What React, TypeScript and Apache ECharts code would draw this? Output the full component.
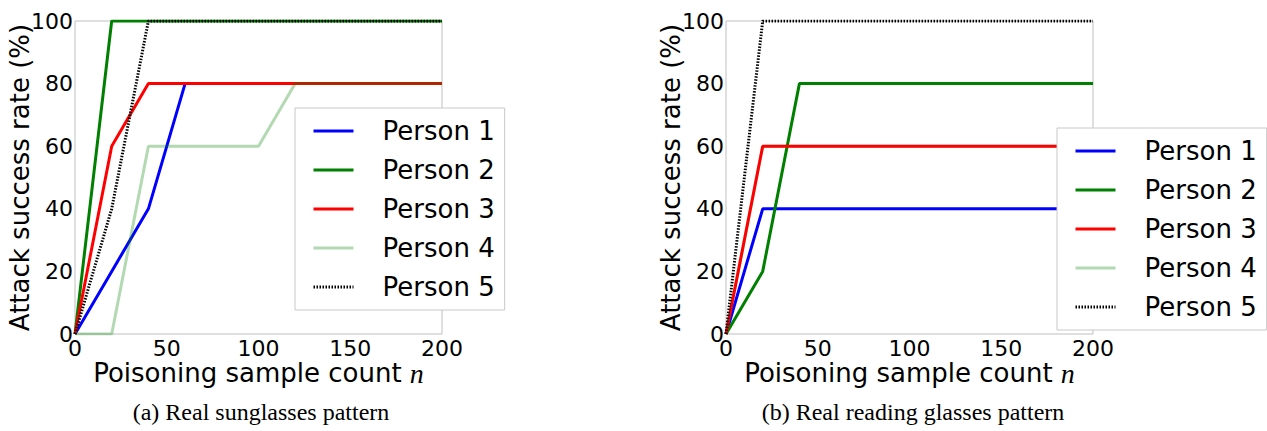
import React, { useEffect, useRef } from "react";
import * as echarts from "echarts";

const xValues = [0, 20, 40, 60, 80, 100, 120, 140, 160, 180, 200];
const personNames = ["Person 1", "Person 2", "Person 3", "Person 4", "Person 5"];

// (a) Real sunglasses pattern
const sunP1 = [0, 20, 40, 80, 80, 80, 80, 80, 80, 80, 80];
const sunP2 = [0, 100, 100, 100, 100, 100, 100, 100, 100, 100, 100];
const sunP3 = [0, 60, 80, 80, 80, 80, 80, 80, 80, 80, 80];
const sunP4 = [0, 0, 60, 60, 60, 60, 80, 80, 80, 80, 80];
const sunP5 = [0, 40, 100, 100, 100, 100, 100, 100, 100, 100, 100];

// (b) Real reading glasses pattern
const readP1 = [0, 40, 40, 40, 40, 40, 40, 40, 40, 40, 40];
const readP2 = [0, 20, 80, 80, 80, 80, 80, 80, 80, 80, 80];
const readP3 = [0, 60, 60, 60, 60, 60, 60, 60, 60, 60, 60];
const readP4 = [0, 60, 60, 60, 60, 60, 60, 60, 60, 60, 60];
const readP5 = [0, 100, 100, 100, 100, 100, 100, 100, 100, 100, 100];

const yTicks = { min: 0, max: 100, interval: 20 };
const xTicks = { min: 0, max: 200, interval: 50 };

const captions = ["(a) Real sunglasses pattern", "(b) Real reading glasses pattern"];

const FONT = "DejaVu Sans";

const styles = [
  { color: "#0000ff", width: 3, type: "solid" as any, opacity: 1 },
  { color: "#008000", width: 3, type: "solid" as any, opacity: 1 },
  { color: "#ff0000", width: 3, type: "solid" as any, opacity: 1 },
  { color: "#008000", width: 3, type: "solid" as any, opacity: 0.3 },
  { color: "#000000", width: 3, type: [1.5, 1.5] as any, opacity: 1 },
];

function pairs(ys: number[]) {
  return xValues.map((x, i) => [x, ys[i]]);
}

export default function App() {
  const ref = useRef<HTMLDivElement>(null);
  useEffect(() => {
    if (!ref.current) return;
    const chart = echarts.init(ref.current, undefined, { renderer: "svg" });
    const grids = [
      { left: 75, top: 21, width: 367, height: 313 },
      { left: 726, top: 21, width: 367, height: 313 },
    ];
    const mkX = (gi: number) => ({
      type: "value",
      gridIndex: gi,
      min: xTicks.min,
      max: xTicks.max,
      interval: xTicks.interval,
      axisLine: { show: false },
      axisTick: { show: false },
      splitLine: { show: false },
      axisLabel: { fontSize: 22, lineHeight: 22, fontFamily: FONT, color: "#000", margin: 3 },
      name: "Poisoning sample count {i|n}",
      nameLocation: "middle",
      nameGap: 26,
      nameMoveOverlap: false,
      nameTextStyle: {
        fontSize: 26,
        lineHeight: 26,
        fontFamily: FONT,
        color: "#000",
        verticalAlign: "top",
        rich: { i: { fontSize: 28, lineHeight: 26, fontFamily: "Liberation Serif", fontStyle: "italic", color: "#000" } },
      },
    });
    const mkY = (gi: number) => ({
      type: "value",
      gridIndex: gi,
      min: yTicks.min,
      max: yTicks.max,
      interval: yTicks.interval,
      axisLine: { show: false },
      axisTick: { show: false },
      splitLine: { show: false },
      axisLabel: { fontSize: 22, fontFamily: FONT, color: "#000", margin: 2 },
      name: "Attack success rate (%)",
      nameLocation: "middle",
      nameGap: 42,
      nameMoveOverlap: false,
      nameTextStyle: { fontSize: 26, fontFamily: FONT, color: "#000" },
    });
    const sets = [
      [sunP1, sunP2, sunP3, sunP4, sunP5],
      [readP1, readP2, readP3, readP4, readP5],
    ];
    const series: any[] = [];
    sets.forEach((set, gi) => {
      set.forEach((ys, si) => {
        const st = styles[si];
        series.push({
          type: "line",
          name: personNames[si],
          xAxisIndex: gi,
          yAxisIndex: gi,
          data: pairs(ys),
          symbol: "none",
          z: gi === 1 && si === 3 ? 1 : 2,
          lineStyle: { color: st.color, width: st.width, type: st.type, opacity: st.opacity },
          itemStyle: { color: st.color, opacity: st.opacity },
        });
      });
    });
    const mkLegend = (left: number, top: number) => ({
      left,
      top,
      orient: "vertical",
      data: personNames,
      itemWidth: 40,
      itemHeight: 3,
      itemGap: 13,
      padding: [10, 10, 10, 17],
      backgroundColor: "#fff",
      borderColor: "#c8c8c8",
      borderWidth: 1,
      borderRadius: 0,
      selectedMode: false,
      itemStyle: { opacity: 0 },
      lineStyle: { width: 3 },
      textStyle: { fontSize: 26, lineHeight: 26, fontFamily: FONT, color: "#000", padding: [0, 0, 0, 24] },
    });
    chart.setOption({
      animation: false,
      backgroundColor: "#fff",
      grid: grids.map((g) => ({ ...g, show: true, borderColor: "#bfbfbf", borderWidth: 1, backgroundColor: "transparent" })),
      xAxis: [mkX(0), mkX(1)],
      yAxis: [mkY(0), mkY(1)],
      legend: [mkLegend(295, 108), mkLegend(1057, 128)],
      series,
      graphic: [
        {
          type: "text",
          x: 261,
          y: 412,
          style: { text: captions[0], fontSize: 24, fontFamily: "Liberation Serif", fill: "#000", textAlign: "center", textVerticalAlign: "middle" },
        },
        {
          type: "text",
          x: 913,
          y: 412,
          style: { text: captions[1], fontSize: 24, fontFamily: "Liberation Serif", fill: "#000", textAlign: "center", textVerticalAlign: "middle" },
        },
      ],
    });
    return () => chart.dispose();
  }, []);
  return <div ref={ref} style={{ position: "fixed", left: 0, top: 0, width: 1267, height: 431 }} />;
}
